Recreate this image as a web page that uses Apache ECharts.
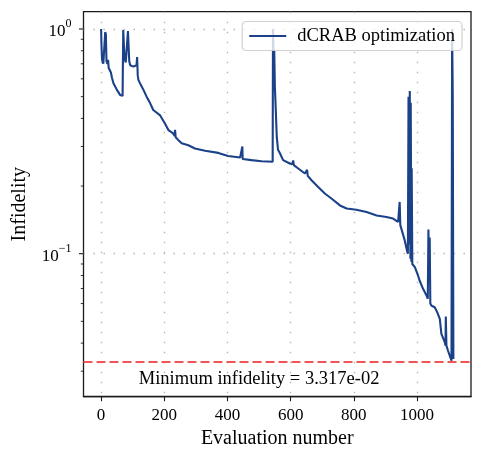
<!DOCTYPE html>
<html>
<head>
<meta charset="utf-8">
<script src="https://cdn.jsdelivr.net/npm/echarts@6/dist/echarts.min.js"></script>
<style>
  html, body { margin: 0; padding: 0; background: #fff; }
  #chart { width: 483px; height: 464px; }
</style>
</head>
<body>
<div id="chart"></div>
<script>
// vertices of the optimization trace
const evalNumber = [
  0, 1, 3, 7, 11, 13, 15, 17, 20, 22,
  24, 28, 31, 34, 39, 50, 60, 68, 70, 72,
  74, 78, 82, 85, 87, 89, 92, 102, 112, 114,
  116, 118, 123, 134, 144, 155, 165, 186, 202, 213,
  227, 233, 234, 236, 239, 244, 255, 276, 297, 329,
  371, 402, 440, 446, 447, 448, 450, 476, 508, 543,
  544, 546, 548, 550, 552, 556, 560, 566, 576, 597,
  605, 608, 610, 624, 645, 650, 652, 654, 666, 687,
  708, 729, 756, 777, 808, 840, 872, 903, 924, 940,
  943, 945, 947, 951, 961, 968, 971, 973, 975, 977,
  979, 980, 982, 983, 985, 993, 1003, 1008, 1019, 1030,
  1034, 1036, 1038, 1040, 1042, 1046, 1056, 1064, 1072, 1077,
  1088, 1090, 1091, 1093, 1098, 1109, 1110, 1111, 1113, 1115
];
const infidelity = [
  1.0, 0.86, 0.73, 0.70, 0.69, 0.97, 0.95, 0.72, 0.70, 0.73,
  0.67, 0.68, 0.64, 0.61, 0.574, 0.536, 0.509, 0.504, 0.99, 1.0,
  0.74, 0.71, 0.70, 0.98, 0.99, 0.72, 0.69, 0.68, 0.69, 0.75,
  0.62, 0.594, 0.574, 0.536, 0.50, 0.468, 0.436, 0.414, 0.38, 0.355,
  0.344, 0.334, 0.356, 0.33, 0.326, 0.321, 0.31, 0.304, 0.294, 0.287,
  0.281, 0.272, 0.268, 0.266, 0.30, 0.264, 0.263, 0.261, 0.258, 0.2566,
  1.0, 0.78, 0.80, 0.55, 0.47, 0.33, 0.29, 0.28, 0.261, 0.252,
  0.25, 0.26, 0.248, 0.2395, 0.2275, 0.226, 0.236, 0.222, 0.2124, 0.198,
  0.1854, 0.176, 0.164, 0.159, 0.157, 0.1533, 0.148, 0.1457, 0.1433, 0.1384,
  0.136, 0.170, 0.134, 0.1315, 0.1146, 0.1035, 0.1, 0.50, 0.11, 0.53,
  0.095, 0.47, 0.092, 0.24, 0.09, 0.0871, 0.080, 0.076, 0.0698, 0.0652,
  0.063, 0.128, 0.075, 0.118, 0.06, 0.0587, 0.0578, 0.0548, 0.0513, 0.044,
  0.0403, 0.039, 0.0525, 0.039, 0.037, 0.0334, 0.03317, 1.0, 0.5, 0.034
];
const xTicks = [0, 200, 400, 600, 800, 1000];
const yMajorTicks = [0.1, 1];
const yMinorTicks = [0.03, 0.04, 0.05, 0.06, 0.07, 0.08, 0.09, 0.2, 0.3, 0.4, 0.5, 0.6, 0.7, 0.8, 0.9];
const minInfidelity = 0.03317;
const seriesName = 'dCRAB optimization';
// where the min label sits (data coords)
const minLabelX = 500;
const minLabelY = 0.0277;

const font = 'Liberation Serif';
const lineColor = '#1b4189';
const frameColor = '#1a1a1a';
const gridLeft = 83.5;
const gridLine = { color: '#b8b8b8', type: [1.5, 8.5], width: 1.4 };

// matplotlib style 3.317e-02
function sciText(v) {
  let parts = v.toExponential(3).split('e');
  let e = parseInt(parts[1], 10);
  return parts[0] + 'e' + (e < 0 ? '-' : '+') + String(Math.abs(e)).padStart(2, '0');
}
function powerLabel(v) {
  let e = Math.round(Math.log10(v));
  return '{b|10}{e|' + (e < 0 ? '\u2212' + (-e) : e) + '}';
}

const points = evalNumber.map((x, i) => [x, infidelity[i]]);

const chart = echarts.init(document.getElementById('chart'));
chart.setOption({
  animation: false,
  textStyle: { fontFamily: font },
  grid: {
    left: gridLeft, right: 12, top: 11.7, bottom: 67.3,
    show: true, borderColor: frameColor, borderWidth: 1.3
  },
  legend: {
    data: [seriesName],
    right: 21, top: 21.5,
    padding: [5, 7, 5, 7],
    icon: 'rect', itemWidth: 37, itemHeight: 2,
    backgroundColor: 'rgba(255,255,255,0.8)',
    borderColor: 'rgba(204,204,204,0.9)', borderWidth: 1.2, borderRadius: 4,
    textStyle: { fontSize: 18.5, color: '#000', fontFamily: font, padding: [0, 0, 0, 6] }
  },
  xAxis: {
    type: 'value', min: -55.75, max: 1170.75,
    axisLine: { show: true, onZero: false, lineStyle: { color: frameColor, width: 1.3 } },
    axisTick: { show: true, length: 4.5, customValues: xTicks, lineStyle: { color: frameColor, width: 1.1 } },
    axisLabel: {
      customValues: xTicks, margin: 10, color: '#000', fontSize: 17, fontFamily: font,
      formatter: v => String(v)
    },
    splitLine: { show: true, lineStyle: gridLine },
    name: 'Evaluation number', nameLocation: 'middle', nameGap: 32,
    nameTextStyle: { fontSize: 20, color: '#000', fontFamily: font }
  },
  yAxis: {
    type: 'log', logBase: 10, min: 0.0231, max: 1.194,
    axisLine: { show: false },
    axisTick: { show: false },
    axisLabel: {
      customValues: yMajorTicks, margin: 12, formatter: powerLabel,
      rich: {
        b: { fontSize: 17, fontFamily: font, color: '#000', lineHeight: 22, verticalAlign: 'bottom' },
        e: { fontSize: 12, fontFamily: font, color: '#000', lineHeight: 9, verticalAlign: 'top' }
      }
    },
    splitLine: { show: true, showMinLine: false, showMaxLine: false, lineStyle: gridLine },
    name: 'Infidelity', nameLocation: 'middle', nameGap: 54, nameRotate: 90,
    nameTextStyle: { fontSize: 20, color: '#000', fontFamily: font }
  },
  series: [{
    name: seriesName,
    type: 'line',
    data: points,
    symbol: 'none',
    lineStyle: { color: lineColor, width: 2.1 },
    itemStyle: { color: lineColor },
    markLine: {
      silent: true, symbol: ['none', 'none'], precision: 6,
      label: { show: false },
      lineStyle: { color: '#f24b4b', type: [9, 4], width: 1.8, opacity: 0.95 },
      data: [{ yAxis: minInfidelity }]
    },
    markPoint: {
      silent: true, symbol: 'circle', symbolSize: 0,
      label: {
        show: true, position: 'inside', color: '#000', fontSize: 18.5, fontFamily: font,
        formatter: 'Minimum infidelity = ' + sciText(minInfidelity)
      },
      data: [{ coord: [minLabelX, minLabelY] }]
    }
  }]
});

// y ticks (major + minor, log positions) placed through the axis scale
function yTickMarks(values, len, width) {
  return values.map(v => {
    let y = chart.convertToPixel({ yAxisIndex: 0 }, v);
    return {
      type: 'line', silent: true,
      shape: { x1: gridLeft - len, y1: y, x2: gridLeft, y2: y },
      style: { stroke: frameColor, lineWidth: width }
    };
  });
}
chart.setOption({
  graphic: yTickMarks(yMajorTicks, 4.5, 1.1).concat(yTickMarks(yMinorTicks, 2.7, 0.9))
});
</script>
</body>
</html>
